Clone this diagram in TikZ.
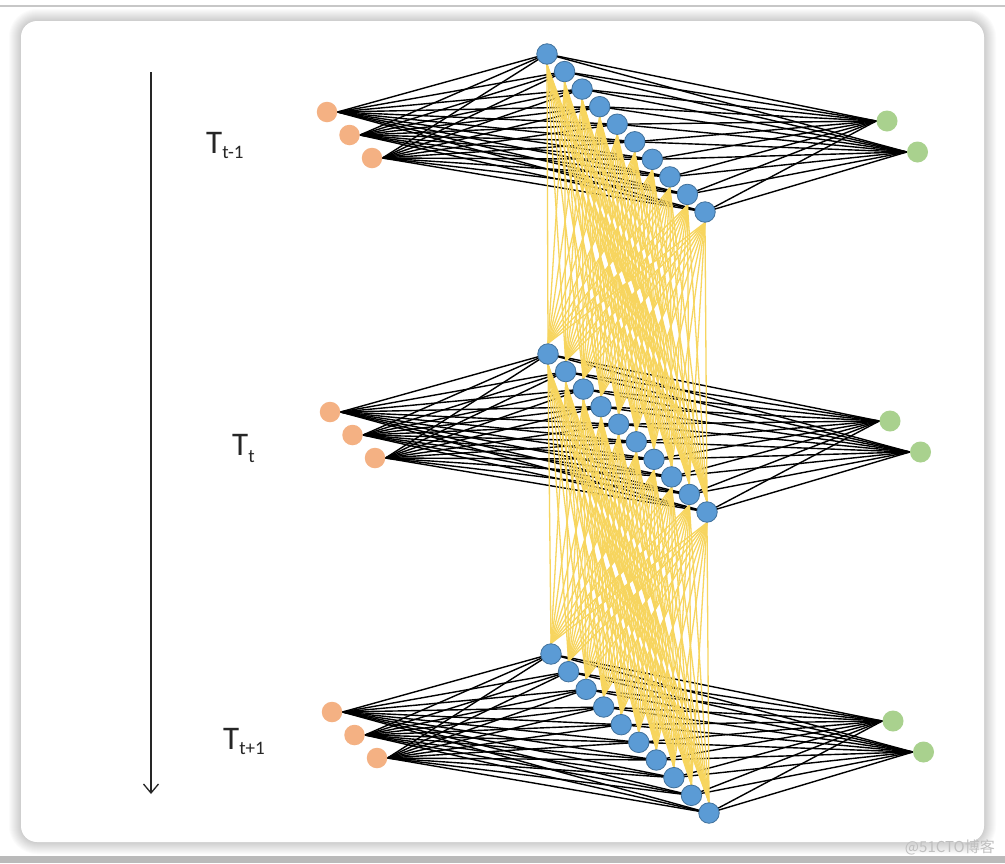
\documentclass[tikz,border=0pt]{standalone}
\usepackage{fontspec}
\setmainfont{Carlito}
\newfontfamily\cjkfont{Noto Sans CJK SC}
\usetikzlibrary{arrows.meta}
\definecolor{nodeorange}{HTML}{F4B183}
\definecolor{nodeblue}{HTML}{5B9BD5}
\definecolor{blueborder}{HTML}{41719C}
\definecolor{nodegreen}{HTML}{A9D18E}
\definecolor{linkyellow}{HTML}{F7D55E}
\pgfdeclarelayer{blackedges}
\pgfdeclarelayer{yellowedges}
\pgfdeclarelayer{bg}
\pgfsetlayers{bg,blackedges,yellowedges,main}
\begin{document}
\begin{tikzpicture}[x=1pt,y=-1pt,
  orangenode/.style={circle,fill=nodeorange,inner sep=0pt,minimum size=20.5pt},
  greennode/.style={circle,fill=nodegreen,inner sep=0pt,minimum size=21pt},
  bluenode/.style={circle,fill=nodeblue,draw=blueborder,line width=0.8pt,inner sep=0pt,minimum size=20.5pt},
  blackedge/.style={black,line width=1.4pt},
  yellowedge/.style={linkyellow,line width=1.3pt},
  timelabel/.style={anchor=base west,inner sep=0pt,font=\fontsize{33}{33}\selectfont,text=black!85}]
\useasboundingbox (0,0) rectangle (1005,863);
\begin{pgfonlayer}{bg}
\fill[white] (0,0) rectangle (1005,863);
\foreach \s in {1,...,12}
  \fill[black,opacity=0.014,rounded corners={16+\s}] ({21-\s},{21-\s}) rectangle ({984+\s},{842+\s});
\fill[white,rounded corners=16] (21,21) rectangle (984,842);
\fill[black!22] (0,5) rectangle (1005,6.5);
\fill[black!27] (0,855.5) rectangle (1005,863);
\end{pgfonlayer}

\foreach \L/\ax/\ay/\zx/\zy/\ox/\oy/\gx/\gy in
  {1/547/54/705/212/327/112/887/121,
   2/548/354/707/512/330/412/890/421,
   3/551/654/709/813/332/712/893/721} {
  \foreach \i in {0,...,9}
    \node[bluenode] (b\L-\i) at ({\ax+\i*(\zx-\ax)/9},{\ay+\i*(\zy-\ay)/9}) {};
  \foreach \k in {0,1,2}
    \node[orangenode] (o\L-\k) at ({\ox+\k*22.5},{\oy+\k*23}) {};
  \foreach \k in {0,1}
    \node[greennode] (g\L-\k) at ({\gx+\k*30.5},{\gy+\k*31}) {};
}

\begin{pgfonlayer}{blackedges}
\foreach \L in {1,2,3} {
  \foreach \i in {0,...,9} {
    \foreach \k in {0,1,2}
      \draw[blackedge] (o\L-\k.east) -- (b\L-\i.center);
    \foreach \k in {0,1}
      \draw[blackedge] (b\L-\i.center) -- (g\L-\k.west);
  }
}
\end{pgfonlayer}

\begin{pgfonlayer}{yellowedges}
\foreach \i in {0,...,9} {
  \foreach \j in {0,...,9} {
    \draw[yellowedge] (b1-\i.south) -- (b2-\j.north);
    \draw[yellowedge] (b2-\i.south) -- (b3-\j.north);
  }
}
\end{pgfonlayer}

\coordinate (atop) at (151,72);
\coordinate (abot) at (151,794);
\draw[black!85,line width=1.3pt,-{Straight Barb[length=9pt,width=15pt,line width=1.3pt]}] (atop) -- (abot);

\node[timelabel] (lab1) at (206,153) {T\raisebox{-5pt}{\fontsize{19}{19}\selectfont t-1}};
\node[timelabel] (lab2) at (232,455) {T\raisebox{-7pt}{\fontsize{19}{19}\selectfont t}};
\node[timelabel] (lab3) at (223,749) {T\raisebox{-5pt}{\fontsize{19}{19}\selectfont t+1}};

\node[anchor=base east,inner sep=0pt,text=black!25,font=\cjkfont\fontsize{15}{15}\selectfont] (wm) at (995,852) {@51CTO博客};
\end{tikzpicture}
\end{document}
